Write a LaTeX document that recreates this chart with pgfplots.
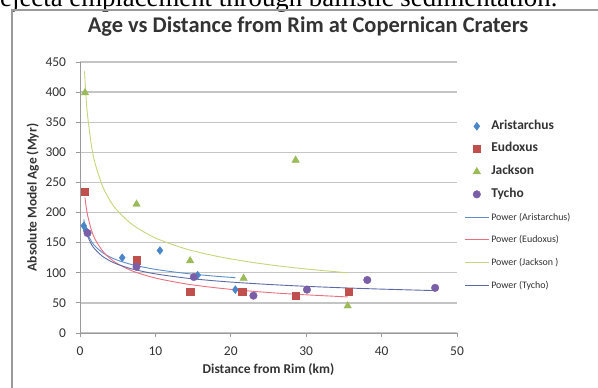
\documentclass[border=0pt]{standalone}
\usepackage{fontspec}
\setmainfont{Carlito}
\newfontfamily\bodyserif{Liberation Serif}
\usepackage{pgfplots}
\pgfplotsset{compat=1.18}
\definecolor{cA}{HTML}{4A86C8}
\definecolor{cE}{HTML}{C0504D}
\definecolor{cJ}{HTML}{9BBB59}
\definecolor{cT}{HTML}{7A5FA8}
\definecolor{lA}{HTML}{5B8FC9}
\definecolor{lE}{HTML}{E8707E}
\definecolor{lJ}{HTML}{C9D57C}
\definecolor{lT}{HTML}{5E6AA6}
\definecolor{gridc}{HTML}{C4C4C4}
\definecolor{axc}{HTML}{9A9A9A}
\definecolor{txt}{HTML}{333333}
\begin{document}
\begin{tikzpicture}[x=1bp,y=1bp]
\useasboundingbox (0,0) rectangle (598,387);
\clip (0,0) rectangle (598,387);
\fill[white] (0,0) rectangle (598,387);
\node[anchor=base west, inner sep=0] at (0,381) {\resizebox{557bp}{!}{\bodyserif ejecta emplacement through ballistic sedimentation.}};
\draw[axc, line width=1.6bp] (12,-5) -- (12,377) -- (610,377);
\begin{axis}[
  at={(80bp,54bp)}, anchor=origin,
  scale only axis, width=377bp, height=271bp,
  xmin=0, xmax=50, ymin=0, ymax=450,
  enlargelimits=false,
  axis x line*=bottom, axis y line*=left,
  axis line style={axc, line width=1bp},
  xtick={0,10,...,50}, ytick={0,50,...,450},
  tick style={axc, line width=0.8bp},
  tick align=outside, major tick length=4bp,
  ymajorgrids, grid style={gridc, line width=1.3bp},
  /pgf/number format/assume math mode=true,
  tick label style={font=\fontsize{13.5}{15}\selectfont, text=txt},
  yticklabel style={xshift=-6.5bp},
  xticklabel style={yshift=-6.5bp},
  title={Age vs Distance from Rim at Copernican Craters},
  title style={font=\bfseries\fontsize{22.5}{26}\selectfont, text=txt, at={(axis description cs:0.605,1.107)}, anchor=center},
  xlabel={Distance from Rim (km)},
  xlabel style={font=\bfseries\fontsize{13.5}{15}\selectfont, text=txt, at={(axis description cs:0.5,-0.135)}, anchor=center},
  ylabel={Absolute Model Age (Myr)},
  ylabel style={font=\bfseries\fontsize{13.5}{15}\selectfont, text=txt, at={(axis description cs:-0.125,0.5)}, anchor=center},
  legend style={at={(axis description cs:1.019,0.793)}, anchor=north west, draw=none, fill=none,
    font=\fontsize{13.5}{15}\selectfont, text=txt, row sep=6.7bp, inner sep=0pt,
    nodes={text height=9bp, text depth=3bp}},
  legend cell align=left,
  legend image code/.code={\draw[mark repeat=2,mark phase=2,#1] plot coordinates {(0bp,0bp) (12bp,0bp) (24bp,0bp)};},
  clip=false,
]
\addplot[only marks, mark=diamond*, mark size=4, color=cA] coordinates {
 (0.5,178) (0.8,170) (5.6,125) (10.6,137) (15.6,96) (20.6,72)
};
\addlegendentry{\textbf{Aristarchus}}
\addplot[only marks, mark=square*, mark size=3.7, color=cE] coordinates {
 (0.66,235) (7.5,121) (14.6,69) (21.5,69) (28.6,62) (35.6,69)
};
\addlegendentry{\textbf{Eudoxus}}
\addplot[only marks, mark=triangle*, mark size=4.3, color=cJ] coordinates {
 (0.66,399) (7.5,214) (14.6,120) (21.7,91) (28.6,287) (35.5,45)
};
\addlegendentry{\textbf{Jackson}}
\addplot[only marks, mark=*, mark size=3.8, color=cT] coordinates {
 (1.0,166) (7.5,110) (15.1,93) (23,62) (30.1,72) (38.1,88) (47.1,75)
};
\addlegendentry{\textbf{Tycho}}
\addplot[lA, line width=0.9bp, smooth, no marks] coordinates {
 (0.5,188.4) (0.8,172.1) (1,164.8) (1.5,152.4) (2,144.2) (3,133.3) (4,126.1) (5,120.8) (7,113.2) (10,105.7) (14,99.0) (18,94.3) (20.6,91.9)
};
\addlegendentry{\fontsize{10}{11}\selectfont Power (Aristarchus)}
\addplot[lE, line width=0.9bp, smooth, no marks] coordinates {
 (0.66,225) (0.8,211.1) (1,196) (1.5,171.3) (2,155.7) (3,136.1) (4,123.7) (5,114.9) (7,102.7) (10,91.3) (14,81.6) (18,75.1) (22,70.2) (26,66.4) (30,63.4) (35.5,59.9)
};
\addlegendentry{\fontsize{10}{11}\selectfont Power (Eudoxus)}
\addplot[lJ, line width=0.9bp, smooth, no marks] coordinates {
 (0.6,434.6) (0.8,391.8) (1,361.6) (1.5,312.5) (2,281.8) (3,243.5) (4,219.5) (5,202.6) (7,179.5) (10,157.8) (14,139.8) (18,127.8) (22,118.9) (26,111.9) (30,106.3) (35.5,100.0)
};
\addlegendentry{\fontsize{10}{11}\selectfont Power (Jackson )}
\addplot[lT, line width=0.9bp, smooth, no marks] coordinates {
 (0.9,164.8) (1,161.1) (1.5,147.6) (2,138.8) (3,127.2) (4,119.6) (5,114.0) (7,106.0) (10,98.2) (14,91.3) (18,86.5) (22,82.9) (26,80.0) (30,77.5) (35,75.0) (40,72.9) (47.1,70.4)
};
\addlegendentry{\fontsize{10}{11}\selectfont Power (Tycho)}
\end{axis}
\end{tikzpicture}
\end{document}
